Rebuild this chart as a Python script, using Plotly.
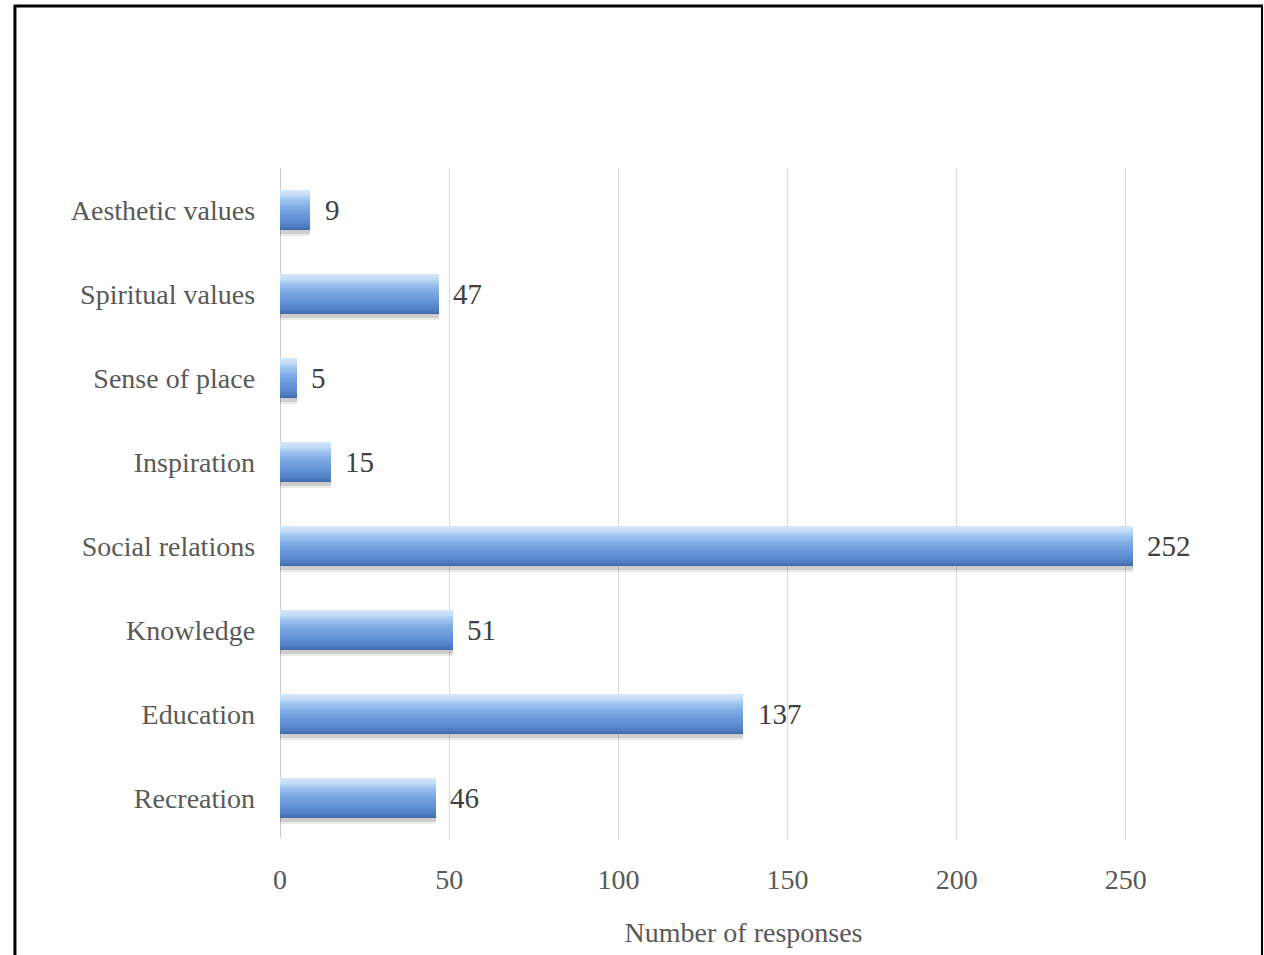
import plotly.graph_objects as go

# Data (bottom to top in the chart)
categories = ["Recreation", "Education", "Knowledge", "Social relations",
              "Inspiration", "Sense of place", "Spiritual values", "Aesthetic values"]
values = [46, 137, 51, 252, 15, 5, 47, 9]
x_ticks = [0, 50, 100, 150, 200, 250]
x_title = "Number of responses"

W, H = 1264, 955
FONT = "Liberation Serif"
BAR_W = 0.476

fig = go.Figure()

# soft shadow below bars
fig.add_trace(go.Bar(
    y=categories, x=values, orientation="h",
    width=BAR_W + 0.02, offset=-BAR_W / 2 - 0.07,
    marker=dict(color="rgba(0,0,0,0.08)", line=dict(width=0)),
    hoverinfo="skip", showlegend=False))
fig.add_trace(go.Bar(
    y=categories, x=values, orientation="h",
    width=BAR_W, offset=-BAR_W / 2 - 0.045,
    marker=dict(color="rgba(0,0,0,0.12)", line=dict(width=0)),
    hoverinfo="skip", showlegend=False))

# gradient stripes, bottom to top (colour stops interpolated for smoothness)
stops = [(0.0, (0x3a, 0x5f, 0x98)), (0.08, (0x4c, 0x7b, 0xbf)),
         (0.3, (0x62, 0x92, 0xd6)), (0.55, (0x7b, 0xa8, 0xe3)),
         (0.75, (0x9c, 0xc2, 0xef)), (0.9, (0xc3, 0xdc, 0xf8)),
         (1.0, (0xd6, 0xe8, 0xfb))]


def interp(t):
    for (t0, c0), (t1, c1) in zip(stops[:-1], stops[1:]):
        if t0 <= t <= t1:
            f = (t - t0) / (t1 - t0) if t1 > t0 else 0
            return "rgb(%d,%d,%d)" % tuple(round(a + (b - a) * f) for a, b in zip(c0, c1))
    return "rgb(%d,%d,%d)" % stops[-1][1]


n = 24
sw = BAR_W / n
for i in range(n):
    fig.add_trace(go.Bar(
        y=categories, x=values, orientation="h",
        width=sw + 0.003, offset=-BAR_W / 2 + i * sw,
        marker=dict(color=interp((i + 0.5) / n), line=dict(width=0)),
        hoverinfo="skip", showlegend=False))

# value labels
for v, c in zip(values, categories):
    fig.add_annotation(x=v, y=c, xref="x", yref="y", text=str(v),
                       showarrow=False, xanchor="left", xshift=12,
                       font=dict(family=FONT, size=29, color="#404040"))

# outer frame
fig.add_shape(type="line", xref="paper", yref="paper",
              x0=8 / W, x1=8 / W, y0=0, y1=1 - 5 / H,
              line=dict(color="black", width=3))
fig.add_shape(type="line", xref="paper", yref="paper",
              x0=7 / W, x1=1263 / W, y0=1 - 6 / H, y1=1 - 6 / H,
              line=dict(color="black", width=3))
fig.add_shape(type="line", xref="paper", yref="paper",
              x0=1262 / W, x1=1262 / W, y0=0, y1=1 - 5 / H,
              line=dict(color="black", width=2))

fig.update_layout(
    width=W, height=H,
    margin=dict(l=0, r=0, t=0, b=0),
    paper_bgcolor="white", plot_bgcolor="white",
    barmode="overlay", bargap=0,
    showlegend=False,
    font=dict(family=FONT, size=28, color="#595959"),
    xaxis=dict(
        domain=[274.6 / W, 1206.7 / W],
        range=[0, 274],
        tickvals=x_ticks,
        showgrid=True, gridcolor="#d9d9d9", gridwidth=1,
        zeroline=False, showline=False,
        ticks="", ticklabelstandoff=20,
        tickfont=dict(family=FONT, size=28, color="#595959"),
        title=dict(text=x_title, standoff=28,
                   font=dict(family=FONT, size=28, color="#595959")),
        fixedrange=True,
    ),
    yaxis=dict(
        domain=[1 - 840 / H, 1 - 168 / H],
        categoryorder="array", categoryarray=categories,
        showgrid=False, zeroline=False,
        showline=False, ticks="", ticklabelstandoff=24,
        tickfont=dict(family=FONT, size=28, color="#595959"),
        fixedrange=True,
    ),
)

# vertical axis line at x=0
fig.add_shape(type="line", xref="x", yref="paper",
              x0=0, x1=0, y0=1 - 838 / H, y1=1 - 168 / H,
              line=dict(color="#bfbfbf", width=1.5), layer="below")

fig.write_html(
    "out.html",
    config={"displayModeBar": False},
    post_script="document.body.style.margin='0';document.body.style.overflow='hidden';",
)
